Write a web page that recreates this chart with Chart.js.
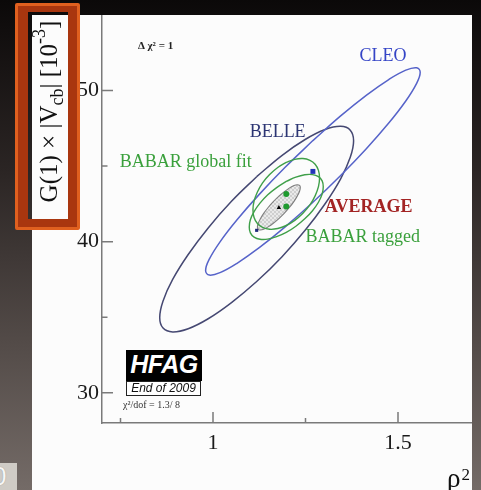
<!DOCTYPE html>
<html>
<head>
<meta charset="utf-8">
<script src="https://cdn.jsdelivr.net/npm/chart.js@4/dist/chart.umd.min.js"></script>
<style>
  html, body { margin: 0; padding: 0; }
  body {
    width: 481px; height: 490px; overflow: hidden; position: relative;
    background: linear-gradient(to bottom, #0b0909 0%, #100d0d 5%, #2b2524 35%, #534b48 70%, #746b67 100%);
  }
  #panel { position: absolute; left: 32px; top: 15px; width: 440px; height: 475px; background: #fcfcfc; }
  #wrap { position: absolute; left: 32px; top: 15px; width: 440px; height: 475px; }
  .hfag {
    position: absolute; left: 126px; top: 350px; width: 76px; height: 31px;
    background: #000; color: #fff; text-align: center; line-height: 31px;
    font: italic bold 25px "Liberation Sans", Arial, sans-serif; letter-spacing: -0.5px;
  }
  .eoy {
    position: absolute; left: 126px; top: 381px; width: 73px; height: 13px;
    border: 1.5px solid #222; background: #fff; color: #111; text-align: center;
    font: italic 12px "Liberation Sans", Arial, sans-serif; line-height: 13px;
  }
  .chi { position: absolute; left: 123px; top: 399px; font: 10px "Liberation Serif", serif; color: #333; }
  .stamp {
    position: absolute; left: 0; top: 463px; width: 17px; height: 27px; background: #cfcbc5; overflow: hidden;
  }
  .stamp span {
    position: absolute; left: -8px; top: -2px; font: 26px "Liberation Sans", Arial, sans-serif;
    color: #f6f6f6; text-shadow: 0 0 1px #888;
  }
  .frame {
    position: absolute; left: 15px; top: 3px; width: 65px; height: 227px; box-sizing: border-box;
    border: 3px solid #e0601f; border-radius: 2px; z-index: 5;
  }
  .frame > div {
    position: absolute; left: 0; top: 0; right: 0; bottom: 0; box-sizing: border-box;
    border-style: solid; border-color: #a9360f; border-width: 6px 9px 8px 10px;
  }
</style>
</head>
<body>
<div id="panel"></div>
<div id="wrap"><canvas id="chart"></canvas></div>
<div class="hfag">HFAG</div>
<div class="eoy">End of 2009</div>
<div class="chi">χ²/dof = 1.3/ 8</div>
<div class="stamp"><span>0</span></div>
<div class="frame"><div></div></div>

<script>
// Axis ticks
const xTicks = [1, 1.5];
const xMinorTicks = [0.75, 1.25];
const yTicks = [30, 40, 50];
const yMinorTicks = [35, 45];

// Δχ² = 1 contours in the (ρ², G(1)|Vcb|) plane
const cleoRho = [1.270, 1.195, 1.125, 1.065, 1.019, 0.990, 0.980, 0.990, 1.019, 1.065, 1.125, 1.195,
                 1.270, 1.345, 1.415, 1.475, 1.521, 1.550, 1.560, 1.550, 1.521, 1.475, 1.415, 1.345, 1.270];
const cleoG   = [46.69, 44.92, 43.13, 41.45, 39.99, 38.84, 38.09, 37.79, 37.95, 38.57, 39.60, 40.98,
                 42.61, 44.38, 46.17, 47.85, 49.31, 50.46, 51.21, 51.51, 51.35, 50.73, 49.70, 48.32, 46.69];

const belleRho = [1.118, 1.050, 0.987, 0.933, 0.891, 0.865, 0.856, 0.865, 0.891, 0.933, 0.987, 1.050,
                  1.118, 1.186, 1.249, 1.303, 1.345, 1.371, 1.380, 1.371, 1.345, 1.303, 1.249, 1.186, 1.118];
const belleG   = [44.30, 42.67, 40.91, 39.15, 37.50, 36.08, 34.98, 34.28, 34.03, 34.24, 34.90, 35.97,
                  37.36, 38.99, 40.75, 42.51, 44.16, 45.58, 46.68, 47.38, 47.63, 47.42, 46.76, 45.70, 44.30];

const globalRho = [1.198, 1.175, 1.153, 1.134, 1.120, 1.111, 1.108, 1.111, 1.120, 1.134, 1.153, 1.175,
                   1.198, 1.221, 1.243, 1.262, 1.276, 1.285, 1.288, 1.285, 1.276, 1.262, 1.243, 1.221, 1.198];
const globalG   = [45.25, 44.91, 44.44, 43.89, 43.29, 42.68, 42.11, 41.60, 41.20, 40.94, 40.82, 40.87,
                   41.07, 41.41, 41.88, 42.43, 43.03, 43.64, 44.21, 44.72, 45.12, 45.38, 45.50, 45.45, 45.25];

const taggedRho = [1.198, 1.172, 1.148, 1.127, 1.111, 1.101, 1.098, 1.101, 1.111, 1.127, 1.148, 1.172,
                   1.198, 1.224, 1.248, 1.269, 1.285, 1.295, 1.298, 1.295, 1.285, 1.269, 1.248, 1.224, 1.198];
const taggedG   = [43.99, 43.58, 43.10, 42.55, 41.99, 41.45, 40.97, 40.58, 40.30, 40.16, 40.17, 40.33,
                   40.61, 41.02, 41.51, 42.05, 42.61, 43.15, 43.63, 44.02, 44.30, 44.44, 44.43, 44.27, 43.99];

const averageRho = [1.178, 1.163, 1.149, 1.137, 1.128, 1.122, 1.120, 1.122, 1.128, 1.137, 1.149, 1.163,
                    1.178, 1.193, 1.207, 1.219, 1.228, 1.234, 1.236, 1.234, 1.228, 1.219, 1.207, 1.193, 1.178];
const averageG   = [43.01, 42.65, 42.26, 41.87, 41.51, 41.20, 40.97, 40.82, 40.77, 40.82, 40.98, 41.22,
                    41.53, 41.89, 42.28, 42.67, 43.03, 43.34, 43.58, 43.72, 43.77, 43.72, 43.56, 43.31, 43.01];

// Central values
const centralNames = ['CLEO', 'BELLE', 'BABAR global fit', 'BABAR tagged', 'AVERAGE'];
const centralRho = [1.270, 1.118, 1.198, 1.198, 1.178];
const centralG   = [44.65, 40.75, 43.16, 42.32, 42.25];

const SERIF = '"Liberation Serif", "Times New Roman", serif';

const pts = (xs, ys) => xs.map((x, i) => ({ x: x, y: ys[i] }));

function hatchPattern() {
  const c = document.createElement('canvas');
  c.width = 4; c.height = 4;
  const g = c.getContext('2d');
  g.fillStyle = '#cfcfcf'; g.fillRect(0, 0, 4, 4);
  g.fillStyle = '#e9e9e9'; g.fillRect(0, 0, 2, 2); g.fillRect(2, 2, 2, 2);
  return g.createPattern(c, 'repeat');
}

const markerStyles = [
  { color: '#2233b8', style: 'rect', r: 3.5 },
  { color: '#1d2a7a', style: 'rect', r: 2.2 },
  { color: '#1f9a2f', style: 'circle', r: 3 },
  { color: '#1f9a2f', style: 'circle', r: 3 },
  { color: '#000000', style: 'triangle', r: 2.6 }
];

const markerSets = centralNames.map((name, i) => ({
  label: name + ' central value',
  data: [{ x: centralRho[i], y: centralG[i] }],
  showLine: false,
  pointStyle: markerStyles[i].style,
  pointRadius: markerStyles[i].r,
  backgroundColor: markerStyles[i].color,
  borderColor: markerStyles[i].color,
  borderWidth: 0
}));

const contour = (label, xs, ys, color, width) => ({
  label: label,
  data: pts(xs, ys),
  showLine: true,
  fill: false,
  tension: 0.4,
  pointRadius: 0,
  borderColor: color,
  borderWidth: width
});

const averageSet = contour('AVERAGE', averageRho, averageG, '#7e7e7e', 1.1);
averageSet.backgroundColor = hatchPattern();
averageSet.shadeInside = true;

const datasets = [
  ...markerSets,
  contour('BABAR tagged', taggedRho, taggedG, '#3f9f49', 1.4),
  contour('BABAR global fit', globalRho, globalG, '#3f9f49', 1.4),
  contour('CLEO', cleoRho, cleoG, '#5663c9', 1.5),
  contour('BELLE', belleRho, belleG, '#454872', 1.5),
  averageSet
];

// Text placed in data coordinates
const notes = [
  { text: 'CLEO',             at: [1.396, 51.96], color: '#3444c6', font: '18px ' + SERIF },
  { text: 'BELLE',            at: [1.099, 46.92], color: '#2c3573', font: '18px ' + SERIF },
  { text: 'BABAR global fit', at: [0.748, 44.93], color: '#3aa03c', font: '18px ' + SERIF },
  { text: 'AVERAGE',          at: [1.302, 41.95], color: '#a32424', font: 'bold 18px ' + SERIF },
  { text: 'BABAR tagged',     at: [1.250, 39.96], color: '#3aa03c', font: '18px ' + SERIF },
  { text: 'Δ χ² = 1',         at: [0.797, 52.75], color: '#222222', font: 'bold 11px ' + SERIF }
];

const shadePlugin = {
  id: 'shade',
  beforeDatasetsDraw(chart) {
    const ctx = chart.ctx, a = chart.chartArea;
    chart.data.datasets.forEach((ds, i) => {
      if (!ds.shadeInside) return;
      const meta = chart.getDatasetMeta(i);
      if (!meta.dataset) return;
      ctx.save();
      ctx.beginPath(); ctx.rect(a.left, a.top, a.right - a.left, a.bottom - a.top); ctx.clip();
      ctx.beginPath();
      meta.dataset.path(ctx);
      ctx.closePath();
      ctx.fillStyle = ds.backgroundColor;
      ctx.fill();
      ctx.restore();
    });
  }
};

const decorPlugin = {
  id: 'decor',
  afterDatasetsDraw(chart) {
    const ctx = chart.ctx;
    const xs = chart.scales.x, ys = chart.scales.y;
    ctx.save();
    ctx.textBaseline = 'alphabetic';
    ctx.textAlign = 'left';
    notes.forEach(n => {
      ctx.font = n.font;
      ctx.fillStyle = n.color;
      ctx.fillText(n.text, xs.getPixelForValue(n.at[0]), ys.getPixelForValue(n.at[1]));
    });
    ctx.restore();
  },
  afterDraw(chart) {
    const ctx = chart.ctx, a = chart.chartArea;
    const xs = chart.scales.x, ys = chart.scales.y;
    ctx.save();
    // inward tick marks
    ctx.strokeStyle = '#7a7a7a';
    ctx.lineWidth = 1.5;
    ctx.beginPath();
    yTicks.forEach(v => { const p = ys.getPixelForValue(v); ctx.moveTo(a.left, p); ctx.lineTo(a.left + 11, p); });
    yMinorTicks.forEach(v => { const p = ys.getPixelForValue(v); ctx.moveTo(a.left, p); ctx.lineTo(a.left + 5.5, p); });
    xTicks.forEach(v => { const p = xs.getPixelForValue(v); ctx.moveTo(p, a.bottom); ctx.lineTo(p, a.bottom - 11); });
    xMinorTicks.forEach(v => { const p = xs.getPixelForValue(v); ctx.moveTo(p, a.bottom); ctx.lineTo(p, a.bottom - 5); });
    ctx.stroke();

    // y-axis title with sub/superscripts, rotated
    ctx.fillStyle = '#111';
    const fs = 25;
    const parts = [
      { t: 'G(1) × |V', k: 0 }, { t: 'cb', k: -1 }, { t: '| [10', k: 0 }, { t: '-3', k: 1 }, { t: ']', k: 0 }
    ];
    const fontOf = k => (k === 0 ? fs : Math.round(fs * 0.7)) + 'px ' + SERIF;
    let total = 0;
    parts.forEach(p => { ctx.font = fontOf(p.k); p.w = ctx.measureText(p.t).width; total += p.w; });
    ctx.translate(24.5, 96.5);
    ctx.rotate(-Math.PI / 2);
    let cx = -total / 2;
    ctx.textBaseline = 'alphabetic';
    ctx.textAlign = 'left';
    parts.forEach(p => {
      ctx.font = fontOf(p.k);
      const dy = p.k === 1 ? -fs * 0.45 : (p.k === -1 ? fs * 0.25 : 0);
      ctx.fillText(p.t, cx, dy);
      cx += p.w;
    });
    ctx.setTransform(1, 0, 0, 1, 0, 0);

    // x-axis title ρ²
    ctx.font = '27px ' + SERIF;
    ctx.fillText('ρ', 415, 472);
    const rw = ctx.measureText('ρ').width;
    ctx.font = '17px ' + SERIF;
    ctx.fillText('2', 415 + rw + 1, 465);
    ctx.restore();
  }
};

new Chart(document.getElementById('chart'), {
  type: 'scatter',
  data: { datasets: datasets },
  options: {
    responsive: true,
    maintainAspectRatio: false,
    animation: false,
    layout: { padding: 0, autoPadding: false },
    plugins: { legend: { display: false }, tooltip: { enabled: false } },
    scales: {
      x: {
        type: 'linear', min: 0.7, max: 1.7,
        grid: { display: false, drawTicks: false },
        border: { display: true, color: '#7a7a7a', width: 1.5 },
        afterBuildTicks: s => { s.ticks = xTicks.map(v => ({ value: v })); },
        afterFit: s => { s.height = 67; s.paddingLeft = 0; s.paddingRight = 0; },
        ticks: {
          padding: 7, color: '#1a1a1a', font: { family: SERIF, size: 22 },
          callback: v => String(v)
        }
      },
      y: {
        type: 'linear', min: 28, max: 55,
        grid: { display: false, drawTicks: false },
        border: { display: true, color: '#7a7a7a', width: 1.5 },
        afterBuildTicks: s => { s.ticks = yTicks.map(v => ({ value: v })); },
        afterFit: s => { s.width = 70; s.paddingTop = 0; s.paddingBottom = 0; },
        ticks: {
          padding: 3, color: '#1a1a1a', font: { family: SERIF, size: 22 },
          callback: v => String(v)
        }
      }
    }
  },
  plugins: [shadePlugin, decorPlugin]
});
</script>
</body>
</html>
